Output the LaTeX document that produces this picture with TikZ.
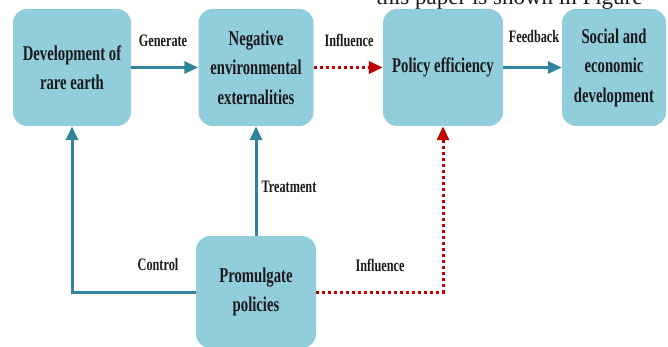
\documentclass[tikz,border=0pt]{standalone}
\usepackage{fontspec}
\setmainfont{Liberation Serif}[FakeStretch=0.7]
\newfontfamily\capfont{Liberation Serif}
\usetikzlibrary{arrows.meta}
\definecolor{boxfill}{HTML}{92CDDC}
\definecolor{tealline}{HTML}{31849B}
\definecolor{redline}{HTML}{C00000}
\definecolor{txt}{HTML}{1A1A1A}
\begin{document}
\begin{tikzpicture}[x=1pt,y=-1pt,
  box/.style={fill=boxfill, rounded corners=14pt, align=center, inner sep=0pt,
    font=\fontsize{21}{29.5}\selectfont\bfseries, text=txt},
  tealarrow/.style={draw=tealline, line width=3pt, -{Triangle[length=14pt,width=12pt]}},
  redarrow/.style={draw=redline, line width=3pt, dash pattern=on 3pt off 3pt,
    -{Triangle[length=14pt,width=12pt]}},
  lbl/.style={font=\fontsize{17.5}{20}\selectfont\bfseries, text=txt, inner sep=0pt}]
\useasboundingbox (0,0) rectangle (668,347);
\node[anchor=base west, font=\capfont\fontsize{23}{23}\selectfont, inner sep=0pt, text=txt] (cap) at (376,5) {this paper is shown in Figure};
\node[box, minimum width=118pt, minimum height=117pt] (dev) at (72,67.5) {Development of\\rare earth};
\node[box, minimum width=115pt, minimum height=117pt] (neg) at (256,67.5) {Negative\\environmental\\externalities};
\node[box, minimum width=120pt, minimum height=117pt] (pol) at (443,67.5) {Policy efficiency};
\node[box, minimum width=104pt, minimum height=117pt] (soc) at (614,67.5) {Social and\\economic\\development};
\node[box, minimum width=120pt, minimum height=112pt] (pro) at (256,292) {Promulgate\\policies};
\draw[tealarrow] (dev.east) -- (neg.west);
\draw[redarrow] (neg.east) -- (pol.west);
\draw[tealarrow] (pol.east) -- (soc.west);
\draw[tealarrow] (pro.north) -- (neg.south);
\draw[tealarrow] (pro.west) -| (dev.south);
\draw[redarrow] (pro.east) -| (pol.south);
\node[lbl] (l1) at (163,41) {Generate};
\node[lbl] (l2) at (349,40) {Influence};
\node[lbl] (l3) at (534,37) {Feedback};
\node[lbl] (l4) at (289,187) {Treatment};
\node[lbl] (l5) at (158,265) {Control};
\node[lbl] (l6) at (380,265) {Influence};
\end{tikzpicture}
\end{document}
